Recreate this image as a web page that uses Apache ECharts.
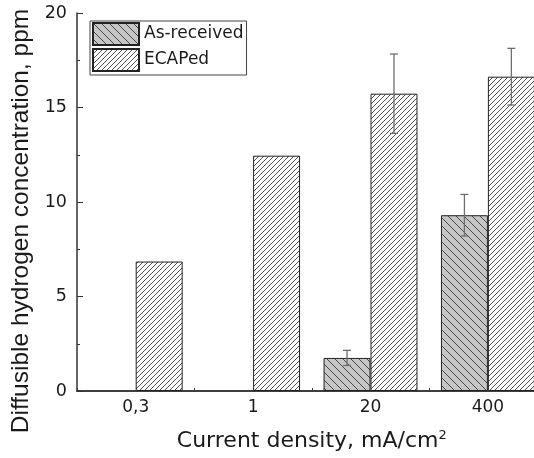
<!DOCTYPE html>
<html>
<head>
<meta charset="utf-8">
<script src="https://cdn.jsdelivr.net/npm/echarts@6/dist/echarts.min.js"></script>
<style>
html,body{margin:0;padding:0;background:#fff;overflow:hidden;width:534px;height:458px;}
#chart{width:566px;height:458px;}
</style>
</head>
<body>
<div id="chart"></div>
<script>
// ---- data ----
const categories = ['0,3', '1', '20', '400'];
const asReceived = ['-', '-', 1.75, 9.3];
const ecaped = [6.85, 12.45, 15.73, 16.63];
const asReceivedErr = [null, null, 0.4, 1.1];
const ecapedErr = [null, null, 2.1, 1.5];
const yTicks = { min: 0, max: 20, interval: 5 };

function makePattern(bg, lineColor, size, dir) {
  const c = document.createElement('canvas');
  c.width = size; c.height = size;
  const ctx = c.getContext('2d');
  ctx.fillStyle = bg; ctx.fillRect(0, 0, size, size);
  ctx.strokeStyle = lineColor; ctx.lineWidth = 1;
  ctx.beginPath();
  if (dir === 'fwd') {
    for (const o of [-size, 0, size]) {
      ctx.moveTo(o - 1, size + 1); ctx.lineTo(o + size + 1, -1);
    }
  } else {
    for (const o of [-size, 0, size]) {
      ctx.moveTo(o - 1, -1); ctx.lineTo(o + size + 1, size + 1);
    }
  }
  ctx.stroke();
  return { image: c, repeat: 'repeat' };
}

const patAs = makePattern('#c6c6c6', '#4a4a4a', 8, 'back');
const patEc = makePattern('#ffffff', '#555555', 5, 'fwd');

function errData(vals, errs) {
  const out = [];
  vals.forEach((v, i) => {
    if (errs[i] != null && typeof v === 'number') out.push([i, v - errs[i], v + errs[i]]);
  });
  return out;
}

function errRender(offset) {
  return function (params, api) {
    const band = api.size([1, 0])[0];
    const idx = api.value(0);
    const lo = api.coord([idx, api.value(1)]);
    const hi = api.coord([idx, api.value(2)]);
    const x = lo[0] + offset * band;
    const cap = 4;
    const style = { stroke: '#6e6e6e', lineWidth: 1.3 };
    return {
      type: 'group',
      children: [
        { type: 'line', shape: { x1: x, y1: lo[1], x2: x, y2: hi[1] }, style },
        { type: 'line', shape: { x1: x - cap, y1: hi[1], x2: x + cap, y2: hi[1] }, style },
        { type: 'line', shape: { x1: x - cap, y1: lo[1], x2: x + cap, y2: lo[1] }, style }
      ]
    };
  };
}

const chart = echarts.init(document.getElementById('chart'), null, { renderer: 'canvas' });
const txt = '#1a1a1a';
const font = 'DejaVu Sans';
chart.setOption({
  animation: false,
  backgroundColor: '#fff',
  grid: { left: 77, top: 13, right: 19.4, bottom: 67, containLabel: false },
  legend: {
    left: 90, top: 21, orient: 'vertical',
    itemWidth: 46, itemHeight: 22, itemGap: 2,
    padding: [1, 3, 3, 2],
    borderColor: '#444', borderWidth: 1,
    icon: 'rect',
    textStyle: { fontFamily: font, fontSize: 17, color: txt },
    data: ['As-received', 'ECAPed']
  },
  xAxis: [{
    type: 'category', data: categories, position: 'bottom',
    axisLine: { show: true, lineStyle: { color: '#333', width: 1.5 } },
    axisTick: { show: true, inside: true, length: 3, alignWithLabel: false, lineStyle: { color: '#333' } },
    axisLabel: { fontFamily: font, fontSize: 17, color: txt, margin: 8 },
    name: 'Current density, mA/cm{sup|2}',
    nameLocation: 'middle', nameGap: 38,
    nameTextStyle: {
      fontFamily: font, fontSize: 22, color: txt,
      rich: { sup: { fontFamily: font, fontSize: 13, color: txt, verticalAlign: 'top', padding: [0, 0, 12, 0] } }
    }
  }, {
    type: 'category', data: categories, position: 'top',
    axisLine: { show: true, lineStyle: { color: '#333', width: 1.5 } },
    axisTick: { show: false }, axisLabel: { show: false }
  }],
  yAxis: [{
    type: 'value', min: yTicks.min, max: yTicks.max, interval: yTicks.interval,
    axisLine: { show: true, lineStyle: { color: '#333', width: 1.5 } },
    axisTick: { show: true, inside: true, length: 6, lineStyle: { color: '#333' } },
    minorTick: { show: true, splitNumber: 2, length: 3, lineStyle: { color: '#333' } },
    splitLine: { show: false },
    axisLabel: { fontFamily: font, fontSize: 17.5, color: txt, margin: 10 },
    name: 'Diffusible hydrogen concentration, ppm',
    nameLocation: 'middle', nameGap: 41,
    nameTextStyle: { fontFamily: 'Liberation Sans', fontSize: 24.5, color: txt, padding: [0, 38, 0, 0] }
  }, {
    type: 'value', min: yTicks.min, max: yTicks.max, interval: yTicks.interval, position: 'right',
    axisLine: { show: true, lineStyle: { color: '#333', width: 1.5 } },
    axisTick: { show: false }, axisLabel: { show: false }, splitLine: { show: false }
  }],
  series: [{
    name: 'As-received', type: 'bar', data: asReceived,
    barGap: '0%', barCategoryGap: '20%',
    itemStyle: { color: patAs, borderColor: '#222', borderWidth: 1 },
    z: 2
  }, {
    name: 'ECAPed', type: 'bar', data: ecaped,
    barGap: '0%', barCategoryGap: '20%',
    itemStyle: { color: patEc, borderColor: '#222', borderWidth: 1 },
    z: 2
  }, {
    type: 'custom', name: 'errAs', renderItem: errRender(-0.2),
    data: errData(asReceived, asReceivedErr), z: 5, silent: true
  }, {
    type: 'custom', name: 'errEc', renderItem: errRender(0.2),
    data: errData(ecaped, ecapedErr), z: 5, silent: true
  }]
});
</script>
</body>
</html>
